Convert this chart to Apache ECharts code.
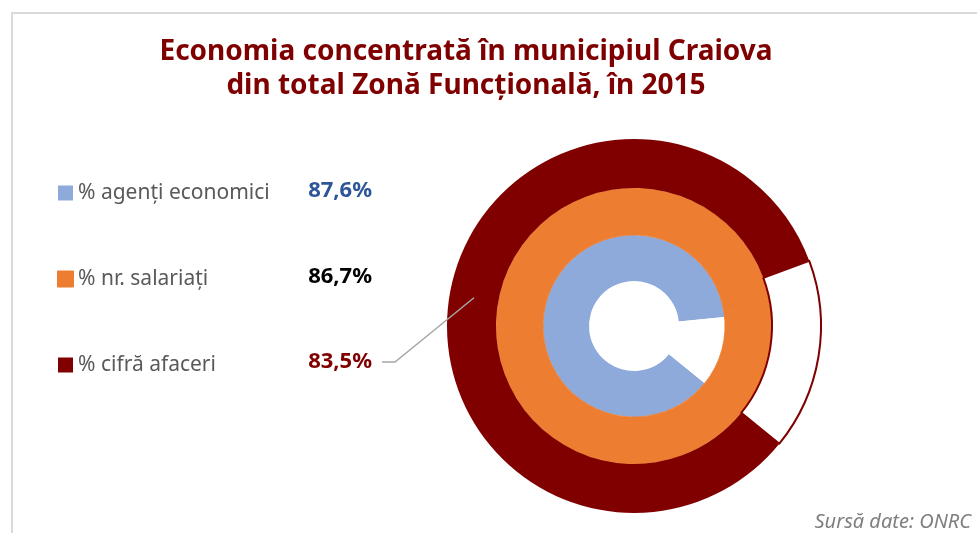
<!DOCTYPE html>
<html>
<head>
<meta charset="utf-8">
<script src="https://cdn.jsdelivr.net/npm/echarts@6/dist/echarts.min.js"></script>
<style>
html,body{margin:0;padding:0;background:#fff;}
#chart{width:977px;height:533px;}
</style>
</head>
<body>
<div id="chart"></div>
<script>
// Data
var categories = ['% agenți economici', '% nr. salariați', '% cifră afaceri'];
var values = [87.6, 86.7, 83.5];
var valueLabels = ['87,6%', '86,7%', '83,5%'];
var titleText = 'Economia concentrată în municipiul Craiova\ndin total Zonă Funcțională, în 2015';
var sourceText = 'Sursă date: ONRC';

var colors = ['#8eaadb', '#ed7d31', '#800000'];
var valueColors = ['#2e5597', '#000000', '#800000'];
var remColors = ['#ffffff', '#ed7d31', '#ffffff'];
var radii = [[45, 91], [91, 138], [138, 187]];
var center = [634, 326];
var rowY = [191, 277, 362];
var labelRight = 372;
var FONT = 'Noto Sans';

var chart = echarts.init(document.getElementById('chart'));

var series = categories.map(function (name, i) {
  var isOuter = i === 2;
  var isMiddle = i === 1;
  return {
    type: 'pie',
    center: center,
    radius: radii[i],
    startAngle: 321,
    clockwise: true,
    silent: true,
    animation: false,
    itemStyle: { borderWidth: 0 },
    emphasis: { disabled: true },
    label: {
      show: true,
      position: 'outside',
      formatter: function () { return valueLabels[i]; },
      fontFamily: FONT,
      fontSize: 22,
      fontWeight: 'bold',
      color: valueColors[i]
    },
    labelLine: { show: false },
    labelLayout: function (params) {
      if (params.dataIndex !== 0) return {};
      return {
        x: labelRight,
        y: rowY[i],
        align: 'right',
        verticalAlign: 'middle'
      };
    },
    data: [
      {
        name: name, value: values[i],
        itemStyle: isMiddle
          ? { color: colors[i], borderColor: colors[i], borderWidth: 0.8 }
          : { color: colors[i], borderWidth: 0 }
      },
      {
        name: 'rest' + i,
        value: +(100 - values[i]).toFixed(1),
        label: { show: false },
        itemStyle: isOuter
          ? { color: '#ffffff', borderColor: '#800000', borderWidth: 2 }
          : (isMiddle
            ? { color: remColors[i], borderColor: remColors[i], borderWidth: 0.8 }
            : { color: remColors[i], borderWidth: 0 })
      }
    ]
  };
});

// leader line for the outer ring's value label (anchored at mid-ring)
var rMid = (radii[2][0] + radii[2][1]) / 2;
var ang = 170 * Math.PI / 180;
var anchor = [center[0] + rMid * Math.cos(ang), center[1] - rMid * Math.sin(ang)];
var leader = [anchor, [labelRight + 23, rowY[2]], [labelRight + 10, rowY[2]]];

chart.setOption({
  animation: false,
  legend: {
    data: categories,
    orient: 'vertical',
    left: 57,
    top: 182,
    padding: 0,
    itemWidth: 15,
    itemHeight: 15,
    itemGap: 64,
    icon: 'rect',
    selectedMode: false,
    textStyle: { fontFamily: FONT, fontSize: 21, color: '#595959', lineHeight: 22, padding: [0, 0, 0, 0] }
  },
  graphic: [
    {
      type: 'polyline',
      silent: true,
      shape: { points: [[12, 540], [12, 13], [990, 13]] },
      style: { stroke: '#d9d9d9', lineWidth: 2, fill: null }
    },
    {
      type: 'polyline',
      silent: true,
      z: 10,
      shape: { points: leader },
      style: { stroke: '#a6a6a6', lineWidth: 1.5, fill: null }
    },
    {
      type: 'text',
      x: 466,
      y: 35,
      silent: true,
      style: {
        text: titleText,
        fontFamily: FONT,
        fontSize: 28,
        fontWeight: 'bold',
        fill: '#7f0000',
        align: 'center',
        verticalAlign: 'top',
        lineHeight: 34
      }
    },
    {
      type: 'text',
      x: 971,
      y: 512,
      silent: true,
      style: {
        text: sourceText,
        fontFamily: FONT,
        fontSize: 20,
        fontStyle: 'italic',
        fill: '#7f7f7f',
        align: 'right',
        verticalAlign: 'top'
      }
    }
  ],
  series: series
});
</script>
</body>
</html>
